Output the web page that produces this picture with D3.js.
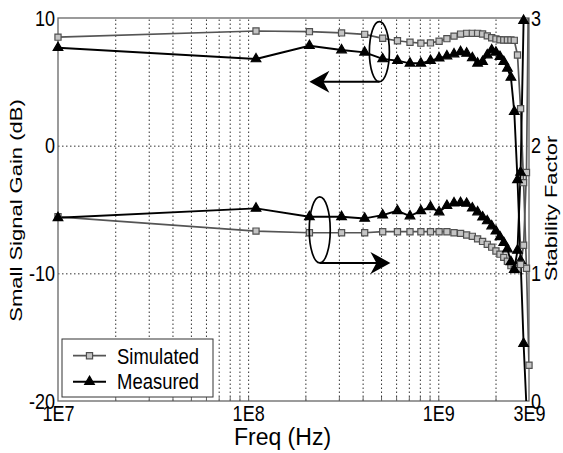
<!DOCTYPE html>
<html>
<head>
<meta charset="utf-8">
<script src="https://cdn.jsdelivr.net/npm/d3@7"></script>
<style>
  html, body { margin: 0; padding: 0; background: #fff; }
  #chart { width: 563px; height: 453px; }
  svg { display: block; font-family: Arial, "Liberation Sans", Helvetica, sans-serif; }
  .grid line { stroke: #333; stroke-dasharray: 1.5, 2.5; }
  .grid .domain, .axis .domain { display: none; }
  .axis text { fill: #000; }
</style>
</head>
<body>
<div id="chart"></div>
<script>
// frequency points (Hz)
const freqs = [1e7, 1.1e8, 2.1e8, 3.1e8, 4.1e8, 5.1e8, 6.1e8, 7.1e8, 8.1e8, 9.1e8,
  1.01e9, 1.11e9, 1.21e9, 1.31e9, 1.41e9, 1.51e9, 1.61e9, 1.71e9, 1.81e9, 1.91e9,
  2.01e9, 2.11e9, 2.21e9, 2.31e9, 2.41e9, 2.51e9, 2.61e9, 2.71e9, 2.81e9, 2.91e9, 3.0e9];

// small signal gain (dB), left axis
const simGain = [8.5, 8.98, 8.93, 8.83, 8.72, 8.41, 8.22, 8.1, 8.03, 8.05,
  8.18, 8.38, 8.58, 8.74, 8.8, 8.8, 8.8, 8.75, 8.6, 8.45,
  8.36, 8.3, 8.28, 8.28, 8.28, 8.25, 7.1, 2.9, -2.9, -9.6, -17.2];
const measGain = [7.67, 6.79, 7.83, 7.49, 7.31, 6.79, 6.66, 6.45, 6.45, 6.66,
  6.85, 7.02, 7.18, 7.35, 7.23, 6.87, 6.45, 6.58, 7.1, 7.49,
  7.31, 6.97, 6.58, 6.06, 5.35, 2.66, -2.68, -9.0, -15.5, -20.5, null];

// stability factor, right axis
const simK = [1.443, 1.331, 1.318, 1.318, 1.318, 1.326, 1.326, 1.326, 1.326, 1.326,
  1.326, 1.326, 1.318, 1.313, 1.30, 1.29, 1.27, 1.25, 1.227, 1.205,
  1.175, 1.15, 1.125, 1.095, 1.06, 1.03, 1.04, 1.07, 1.22, 1.79, 3.6];
const measK = [1.435, 1.509, 1.443, 1.443, 1.43, 1.456, 1.49, 1.449, 1.49, 1.52,
  1.48, 1.53, 1.55, 1.553, 1.547, 1.51, 1.48, 1.44, 1.41, 1.37,
  1.33, 1.285, 1.24, 1.19, 1.09, 1.03, 1.18, 1.79, 2.98, 3.8, null];

const xTicks = [1e7, 1e8, 1e9, 3e9];
const xTickLabels = ["1E7", "1E8", "1E9", "3E9"];
const xMinor = [2e7, 3e7, 4e7, 5e7, 6e7, 7e7, 8e7, 9e7, 1e8,
  2e8, 3e8, 4e8, 5e8, 6e8, 7e8, 8e8, 9e8, 1e9, 2e9];
const gainTicks = [-20, -10, 0, 10];
const kTicks = [0, 1, 2, 3];
const gainGrid = [-10, 0];

const legendNames = ["Simulated", "Measured"];

class GainStabilityChart {
  constructor({ el }) {
    this.el = el;
    this.init();
  }

  init() {
    this.width = 563;
    this.height = 453;
    this.margin = { top: 18, right: 34, bottom: 52, left: 58 };
    this.textScale = 0.82;

    this.x = d3.scaleLog()
      .domain([1e7, 3e9])
      .range([this.margin.left, this.width - this.margin.right]);
    this.yGain = d3.scaleLinear()
      .domain([-20, 10])
      .range([this.height - this.margin.bottom, this.margin.top]);
    this.yK = d3.scaleLinear()
      .domain([0, 3])
      .range([this.height - this.margin.bottom, this.margin.top]);

    this.svg = d3.select(this.el).append("svg")
      .attr("width", this.width)
      .attr("height", this.height)
      .attr("viewBox", [0, 0, this.width, this.height]);

    this.svg.append("clipPath").attr("id", "plot-clip")
      .append("rect")
      .attr("x", this.margin.left)
      .attr("y", this.margin.top)
      .attr("width", this.width - this.margin.left - this.margin.right)
      .attr("height", this.height - this.margin.top - this.margin.bottom);

    this.series = [
      { name: "Simulated", values: simGain, y: this.yGain, kind: "sim" },
      { name: "Measured", values: measGain, y: this.yGain, kind: "meas" },
      { name: "Simulated", values: simK, y: this.yK, kind: "sim" },
      { name: "Measured", values: measK, y: this.yK, kind: "meas" },
    ];
    this.styles = {
      sim: { stroke: "#555", width: 1.7, symbol: d3.symbolSquare, size: 38, fill: "#c4c4c4", mstroke: "#505050" },
      meas: { stroke: "#000", width: 1.9, symbol: d3.symbolTriangle, size: 40, fill: "#000", mstroke: "#000" },
    };

    this.render();
  }

  render() {
    const { margin, width, height } = this;
    const plotH = height - margin.top - margin.bottom;
    const plotW = width - margin.left - margin.right;
    const bottom = height - margin.bottom;
    const fmt = (d) => String(d);

    // grid
    this.svg.append("g")
      .attr("class", "grid")
      .attr("transform", `translate(0,${bottom})`)
      .call(d3.axisBottom(this.x).tickValues(xMinor).tickSize(-plotH).tickFormat(""));
    this.svg.append("g")
      .attr("class", "grid")
      .attr("transform", `translate(${margin.left},0)`)
      .call(d3.axisLeft(this.yGain).tickValues(gainGrid).tickSize(-plotW).tickFormat(""));

    // frame
    this.svg.append("rect")
      .attr("x", margin.left)
      .attr("y", margin.top)
      .attr("width", plotW)
      .attr("height", plotH)
      .attr("fill", "none")
      .attr("stroke", "#666")
      .attr("stroke-width", 1.3);

    // inner minor ticks on bottom
    this.svg.append("g")
      .attr("class", "axis")
      .attr("transform", `translate(0,${bottom})`)
      .call(d3.axisBottom(this.x).tickValues(xMinor).tickSizeInner(-4).tickSizeOuter(0).tickFormat(""))
      .selectAll(".tick line").attr("stroke", "#666");

    // tick labels
    const s = this.textScale;
    const gx = this.svg.append("g")
      .attr("class", "axis")
      .attr("transform", `translate(0,${bottom})`)
      .call(d3.axisBottom(this.x).tickValues(xTicks).tickSize(0).tickPadding(4)
        .tickFormat((d, i) => xTickLabels[i]));
    gx.selectAll("text").attr("font-size", 22).attr("transform", `scale(${s},1)`);

    const gl = this.svg.append("g")
      .attr("class", "axis")
      .attr("transform", `translate(${margin.left},0)`)
      .call(d3.axisLeft(this.yGain).tickValues(gainTicks).tickSize(0).tickPadding(0).tickFormat(fmt));
    gl.selectAll("text").attr("font-size", 22).attr("x", 0)
      .attr("transform", `translate(-3,0) scale(${s},1)`);

    const gr = this.svg.append("g")
      .attr("class", "axis")
      .attr("transform", `translate(${width - margin.right},0)`)
      .call(d3.axisRight(this.yK).tickValues(kTicks).tickSize(0).tickPadding(0).tickFormat(fmt));
    gr.selectAll("text").attr("font-size", 22).attr("x", 0)
      .attr("transform", `translate(2,0) scale(${s},1)`);

    // axis titles
    this.svg.append("text")
      .attr("x", (margin.left + width - margin.right) / 2 - 11)
      .attr("y", height - 8)
      .attr("text-anchor", "middle")
      .attr("font-size", 23)
      .text("Freq (Hz)");
    this.svg.append("text")
      .attr("transform", `translate(22,${margin.top + plotH / 2 + 1}) scale(0.74,1) rotate(-90)`)
      .attr("text-anchor", "middle")
      .attr("font-size", 22)
      .text("Small Signal Gain (dB)");
    this.svg.append("text")
      .attr("transform", `translate(557,${margin.top + plotH / 2 - 1}) scale(0.74,1) rotate(-90)`)
      .attr("text-anchor", "middle")
      .attr("font-size", 22)
      .text("Stability Factor");

    // series
    const plot = this.svg.append("g");
    const lines = plot.append("g").attr("clip-path", "url(#plot-clip)");
    this.series.forEach((sr) => {
      const st = this.styles[sr.kind];
      const pts = freqs.map((f, i) => ({ f, v: sr.values[i] }));
      const line = d3.line()
        .defined((d) => d.v != null)
        .x((d) => this.x(d.f))
        .y((d) => sr.y(d.v));
      lines.append("path")
        .datum(pts)
        .attr("fill", "none")
        .attr("stroke", st.stroke)
        .attr("stroke-width", st.width)
        .attr("stroke-linejoin", "round")
        .attr("d", line);
      const [lo, hi] = sr.y.domain();
      plot.append("g")
        .selectAll("path")
        .data(pts.filter((d) => d.v != null && d.v >= lo && d.v <= hi))
        .join("path")
        .attr("transform", (d) => `translate(${this.x(d.f)},${sr.y(d.v)})`)
        .attr("d", d3.symbol(st.symbol, st.size))
        .attr("fill", st.fill)
        .attr("stroke", st.mstroke)
        .attr("stroke-width", 1.2);
    });

    this.annotate();
    this.legend();
  }

  annotate() {
    const notes = [
      { cf: 4.9e8, cv: 7.36, y: this.yGain, rx: 10, ry: 30, tipF: 2.1e8 },
      { cf: 2.38e8, cv: 1.34, y: this.yK, rx: 10.5, ry: 33, tipF: 5.6e8 },
    ];
    const g = this.svg.append("g");
    notes.forEach((n) => {
      const cx = this.x(n.cf);
      const cy = n.y(n.cv);
      const by = cy + n.ry;
      const tx = this.x(n.tipF);
      const dir = tx < cx ? -1 : 1;
      g.append("ellipse")
        .attr("cx", cx).attr("cy", cy)
        .attr("rx", n.rx).attr("ry", n.ry)
        .attr("fill", "none")
        .attr("stroke", "#000")
        .attr("stroke-width", 1.7);
      g.append("line")
        .attr("x1", cx).attr("y1", by)
        .attr("x2", tx - dir * 10).attr("y2", by)
        .attr("stroke", "#000")
        .attr("stroke-width", 2);
      const L = 20, W = 11, notch = 6;
      g.append("path")
        .attr("d", `M${tx},${by} L${tx - dir * L},${by - W} L${tx - dir * (L - notch)},${by} L${tx - dir * L},${by + W} Z`)
        .attr("fill", "#000");
    });
  }

  legend() {
    const x0 = 62, y0 = 339, w = 151, h = 58;
    const g = this.svg.append("g");
    g.append("rect")
      .attr("x", x0).attr("y", y0)
      .attr("width", w).attr("height", h)
      .attr("fill", "#fff")
      .attr("stroke", "#333")
      .attr("stroke-width", 1);
    const rows = [
      { name: legendNames[0], st: this.styles.sim, ly: 355.7, by: 363.5 },
      { name: legendNames[1], st: this.styles.meas, ly: 381.7, by: 388.5 },
    ];
    rows.forEach((r) => {
      g.append("line")
        .attr("x1", 73).attr("x2", 106)
        .attr("y1", r.ly).attr("y2", r.ly)
        .attr("stroke", r.st.stroke)
        .attr("stroke-width", r.st.width);
      g.append("path")
        .attr("transform", `translate(89.5,${r.ly})`)
        .attr("d", d3.symbol(r.st.symbol, r.st.size))
        .attr("fill", r.st.fill)
        .attr("stroke", r.st.mstroke)
        .attr("stroke-width", 1.2);
      g.append("text")
        .attr("transform", `translate(117,${r.by}) scale(0.84,1)`)
        .attr("font-size", 22)
        .text(r.name);
    });
  }
}

new GainStabilityChart({ el: document.getElementById("chart") });
</script>
</body>
</html>
